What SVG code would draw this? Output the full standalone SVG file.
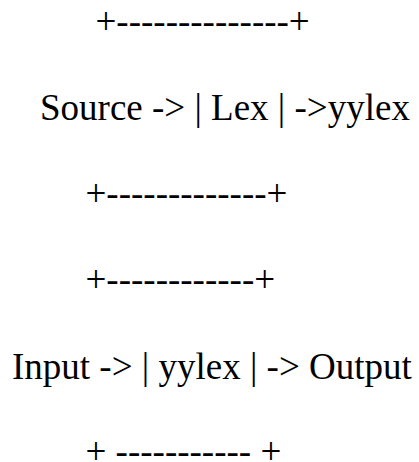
<svg xmlns="http://www.w3.org/2000/svg" width="419" height="462" viewBox="0 0 419 462">
<style>
text{font-family:"Liberation Serif","Times New Roman",serif;font-size:37px;fill:#000}
</style>
<rect width="419" height="462" fill="#fff"/>
<g id="lex">
<text x="95.5" y="34">+--------------+</text>
<text x="40" y="120">Source -&gt; | Lex | -&gt;yylex</text>
<text x="85.5" y="206">+-------------+</text>
</g>
<g id="yylex">
<text x="85.5" y="292">+------------+</text>
<text x="12" y="379">Input -&gt; | yylex | -&gt; Output</text>
<text x="85.5" y="464">+ ----------- +</text>
</g>
<g id="connectors"></g>
</svg>
